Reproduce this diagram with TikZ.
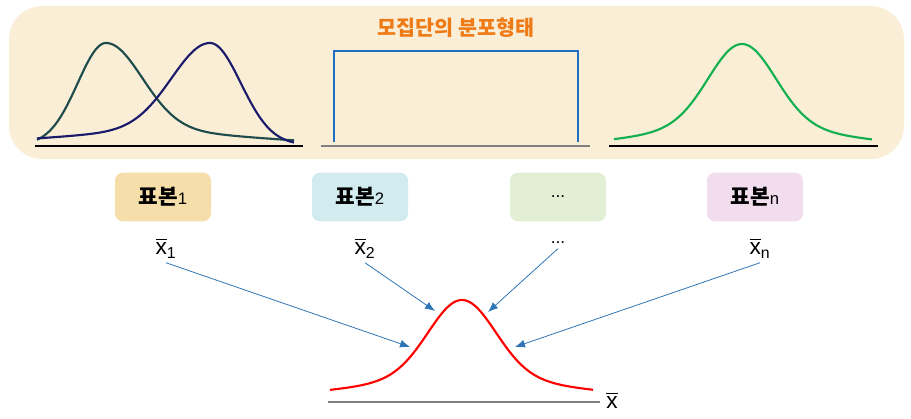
\documentclass[tikz,border=0pt]{standalone}
\usepackage{amsmath}
\usepackage{fontspec}
\setmainfont{Liberation Sans}
\newfontfamily\kr{Noto Sans CJK KR}
\usetikzlibrary{arrows.meta}
\definecolor{popbg}{HTML}{FAEED6}
\definecolor{titleor}{HTML}{EE7B16}
\definecolor{teal1}{HTML}{1E4B4C}
\definecolor{navy1}{HTML}{1B1B6B}
\definecolor{unifblue}{HTML}{1F6FC0}
\definecolor{normgreen}{HTML}{12B04E}
\definecolor{arrblue}{HTML}{2E75B6}
\definecolor{boxA}{HTML}{F5DEA9}
\definecolor{boxB}{HTML}{D2EBEF}
\definecolor{boxC}{HTML}{E2EFD5}
\definecolor{boxD}{HTML}{F2DDEF}
\newcommand{\xb}[1]{$\overline{\text{x}}_{\text{#1}}$}
\newcommand{\pyobon}[1]{{\fontsize{16}{18}\selectfont\kr\bfseries 표본}{\fontsize{12.5}{14}\selectfont #1}}

\begin{document}
\begin{tikzpicture}[x=0.75pt,y=-0.75pt,
    sbox/.style={rounded corners=6pt, minimum width=72pt, minimum height=36.5pt, font=\fontsize{13}{15}\selectfont},
    xlab/.style={font=\fontsize{17}{19}\selectfont},
    curve/.style={line width=1.6pt},
    axis/.style={line width=0.9pt},
    arr/.style={-{Latex[length=7.5pt,width=6pt]}, draw=arrblue, line width=0.6pt}]
    \useasboundingbox (0,0) rectangle (911,418);
    % population
    \fill[popbg, rounded corners=25pt] (9,6) rectangle (904,159);
    \node[text=titleor, font=\fontsize{15.5}{17}\selectfont\kr\bfseries] (T) at (456,28) {모집단의 분포형태};
    \draw[axis] (35,146) -- (303,146);
    \draw[curve, teal1] plot[domain=37:294, samples=150] (\x, {145 - 86*exp(-((\x-106)/(\x<106?28:36))^2/2) - 16*exp(-((\x-106)/(\x<106?30:120))^2/2)});
    \draw[curve, navy1] plot[domain=37:294, samples=150] (\x, {145 - 86*exp(-((\x-210)/(\x<210?38:31))^2/2) - 16*exp(-((\x-210)/(\x<210?130:30))^2/2)});
    \draw[axis, gray, line width=1.8pt] (321,146) -- (590,146);
    \draw[curve, unifblue] (334,142) -- (334,51) -- (578,51) -- (578,142);
    \draw[axis] (609,146) -- (878,146);
    \draw[curve, normgreen] plot[domain=614:872, samples=120] (\x, {145 - 80*exp(-((\x-742)/33)^2/2) - 21*exp(-((\x-742)/80)^2/2)});
    % samples
    \node[sbox, fill=boxA] (S1) at (163,197) {\pyobon{1}};
    \node[sbox, fill=boxB] (S2) at (360,197) {\pyobon{2}};
    \node[sbox, fill=boxC] (S3) at (558,197) {...};
    \node[sbox, fill=boxD] (S4) at (755,197) {\pyobon{n}};
    \node[xlab] (X1) at (166,248) {\xb{1}};
    \node[xlab] (X2) at (365,248) {\xb{2}};
    \node[font=\fontsize{13}{15}\selectfont] (X3) at (558,243) {...};
    \node[xlab] (X4) at (760,248) {\xb{n}};
    % sampling distribution
    \draw[axis, gray, line width=1.4pt] (328,402) -- (600,402);
    \draw[curve, red] plot[domain=330:593, samples=120] (\x, {395 - 75*exp(-((\x-462)/33)^2/2) - 20*exp(-((\x-462)/80)^2/2)});
    \node[xlab] (XB) at (612,400) {$\overline{\text{x}}$};
    \coordinate (A1) at (410,347); \coordinate (A2) at (435,311);
    \coordinate (A3) at (488,312); \coordinate (A4) at (515,347);
    \draw[arr] (X1.south) to (A1);
    \draw[arr] (X2.south) to (A2);
    \draw[arr] (X3.south) to (A3);
    \draw[arr] (X4.south) to (A4);
\end{tikzpicture}
\end{document}
